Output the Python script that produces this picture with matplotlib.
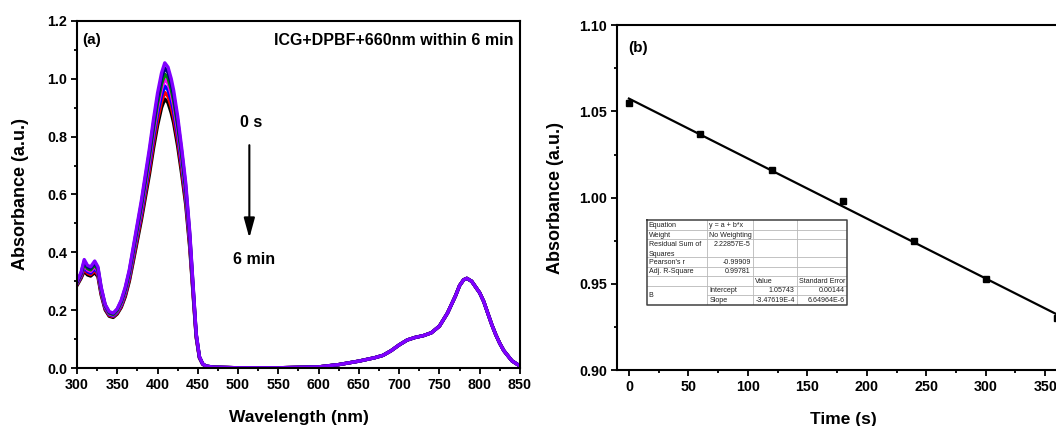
import matplotlib
matplotlib.use("Agg")
import matplotlib.pyplot as plt
from matplotlib.ticker import MultipleLocator

plt.rcParams["font.family"] = ["Liberation Sans", "DejaVu Sans"]
plt.rcParams["font.weight"] = "bold"

# ---- panel (a): UV-vis spectra, 0 s -> 6 min (every 60 s)
wl_short = [300, 305, 309, 313, 317, 322, 326, 330, 335, 340, 345, 350, 355, 360,
            365, 370, 375, 380, 385, 390, 395, 400, 405, 409, 413, 417, 420, 425,
            430, 435, 440, 445, 448, 452, 456, 460]
abs_0s = [0.300, 0.330, 0.375, 0.355, 0.350, 0.370, 0.350, 0.280, 0.220, 0.195, 0.190, 0.205,
          0.235, 0.280, 0.340, 0.420, 0.500, 0.580, 0.670, 0.760, 0.860, 0.950, 1.020, 1.055,
          1.040, 1.000, 0.960, 0.870, 0.760, 0.640, 0.470, 0.250, 0.120, 0.040, 0.015, 0.007]
abs_1min = [0.298, 0.327, 0.369, 0.350, 0.345, 0.364, 0.345, 0.277, 0.218, 0.193, 0.188, 0.203,
            0.232, 0.276, 0.335, 0.413, 0.492, 0.570, 0.659, 0.747, 0.845, 0.934, 1.003, 1.037,
            1.022, 0.983, 0.944, 0.855, 0.747, 0.629, 0.462, 0.246, 0.118, 0.039, 0.015, 0.007]
abs_2min = [0.295, 0.324, 0.362, 0.344, 0.339, 0.357, 0.339, 0.272, 0.215, 0.190, 0.185, 0.199,
            0.227, 0.270, 0.327, 0.404, 0.482, 0.559, 0.645, 0.732, 0.828, 0.915, 0.982, 1.016,
            1.002, 0.963, 0.924, 0.838, 0.732, 0.616, 0.453, 0.241, 0.116, 0.039, 0.015, 0.007]
abs_3min = [0.293, 0.321, 0.356, 0.339, 0.334, 0.351, 0.334, 0.268, 0.212, 0.188, 0.183, 0.196,
            0.223, 0.265, 0.322, 0.397, 0.473, 0.549, 0.634, 0.719, 0.814, 0.899, 0.965, 0.998,
            0.984, 0.946, 0.908, 0.823, 0.719, 0.605, 0.445, 0.237, 0.114, 0.038, 0.014, 0.007]
abs_4min = [0.290, 0.317, 0.349, 0.333, 0.328, 0.344, 0.328, 0.263, 0.208, 0.185, 0.180, 0.193,
            0.218, 0.259, 0.314, 0.388, 0.462, 0.536, 0.619, 0.702, 0.795, 0.878, 0.942, 0.975,
            0.961, 0.924, 0.887, 0.804, 0.702, 0.591, 0.434, 0.231, 0.111, 0.037, 0.014, 0.007]
abs_5min = [0.288, 0.314, 0.342, 0.328, 0.323, 0.337, 0.322, 0.258, 0.205, 0.182, 0.178, 0.190,
            0.214, 0.253, 0.307, 0.379, 0.452, 0.524, 0.605, 0.686, 0.777, 0.858, 0.921, 0.953,
            0.939, 0.903, 0.867, 0.786, 0.686, 0.578, 0.424, 0.226, 0.108, 0.036, 0.014, 0.006]
abs_6min = [0.285, 0.310, 0.335, 0.322, 0.318, 0.330, 0.316, 0.253, 0.201, 0.179, 0.175, 0.187,
            0.210, 0.247, 0.300, 0.370, 0.441, 0.512, 0.591, 0.670, 0.759, 0.838, 0.900, 0.930,
            0.917, 0.882, 0.847, 0.767, 0.670, 0.565, 0.415, 0.221, 0.106, 0.035, 0.013, 0.006]

# long-wavelength part (ICG band) is the same for all curves
wl_long = [470, 500, 550, 600, 625, 650, 670, 680, 690, 700, 710, 720, 730, 740, 750,
           760, 770, 775, 780, 784, 790, 800, 805, 810, 815, 820, 825, 830, 840, 850]
abs_long = [0.003, 0.001, 0.001, 0.004, 0.012, 0.024, 0.036, 0.044, 0.060, 0.080, 0.097,
            0.106, 0.112, 0.122, 0.145, 0.190, 0.250, 0.285, 0.305, 0.310, 0.300, 0.260,
            0.230, 0.190, 0.150, 0.115, 0.085, 0.060, 0.025, 0.007]

spectra = [abs_6min, abs_5min, abs_4min, abs_3min, abs_2min, abs_1min, abs_0s]
colors = ["black", "red", "blue", "magenta", "green", "navy", "#8000ff"]

# ---- panel (b): absorbance at 410 nm vs time
time_s = [0, 60, 120, 180, 240, 300, 360]
abs_410 = [1.055, 1.037, 1.016, 0.998, 0.975, 0.953, 0.930]
intercept = 1.05743
slope = -3.47619e-4

table_rows = [
    ["Equation", "y = a + b*x", "", ""],
    ["Weight", "No Weighting", "", ""],
    ["Residual Sum of\nSquares", "2.22857E-5", "", ""],
    ["Pearson's r", "-0.99909", "", ""],
    ["Adj. R-Square", "0.99781", "", ""],
    ["", "", "Value", "Standard Error"],
    ["", "Intercept", "1.05743", "0.00144"],
    ["", "Slope", "-3.47619E-4", "6.64964E-6"],
]


def style_axes(ax):
    for s in ax.spines.values():
        s.set_linewidth(1.5)
    ax.tick_params(which="both", direction="out", width=1.3, top=False, right=False,
                   labelsize=10.3, pad=3)
    ax.tick_params(which="major", length=4)
    ax.tick_params(which="minor", length=2.5)


fig = plt.figure(figsize=(10.56, 4.26), dpi=100)

# ---------------- (a)
ax1 = fig.add_axes([0.0729, 0.136, 0.4195, 0.815])
for y, c in zip(spectra, colors):
    ax1.plot(wl_short + wl_long, y + abs_long, color=c, lw=2.4, solid_capstyle="round")
ax1.set_xlim(300, 850)
ax1.set_ylim(0, 1.2)
ax1.xaxis.set_major_locator(MultipleLocator(50))
ax1.xaxis.set_minor_locator(MultipleLocator(25))
ax1.yaxis.set_major_locator(MultipleLocator(0.2))
ax1.yaxis.set_minor_locator(MultipleLocator(0.1))
ax1.yaxis.set_major_formatter(plt.FormatStrFormatter("%.1f"))
style_axes(ax1)
ax1.set_xlabel("Wavelength (nm)", fontsize=12.5, fontweight="bold", labelpad=13)
ax1.set_ylabel("Absorbance (a.u.)", fontsize=13, fontweight="bold", labelpad=13)
ax1.text(0.012, 0.965, "(a)", transform=ax1.transAxes, fontsize=11, fontweight="bold",
         va="top", ha="left")
ax1.text(0.985, 0.965, "ICG+DPBF+660nm within 6 min", transform=ax1.transAxes,
         fontsize=11.5, fontweight="bold", va="top", ha="right")
ax1.annotate("", xy=(514, 0.44), xytext=(514, 0.78),
             arrowprops=dict(arrowstyle="-|>,head_length=0.8,head_width=0.22",
                             color="black", lw=1.5, mutation_scale=15))
ax1.text(516, 0.85, "0 s", fontsize=11.5, fontweight="bold", ha="center", va="center")
ax1.text(520, 0.376, "6 min", fontsize=11.5, fontweight="bold", ha="center", va="center")

# ---------------- (b)
ax2 = fig.add_axes([0.5843, 0.131, 0.428, 0.810])
ax2.plot([time_s[0], time_s[-1]],
         [intercept + slope * time_s[0], intercept + slope * time_s[-1]],
         color="black", lw=1.6)
ax2.plot(time_s, abs_410, "s", color="black", ms=5)
ax2.set_xlim(-10, 370)
ax2.set_ylim(0.90, 1.10)
ax2.xaxis.set_major_locator(MultipleLocator(50))
ax2.xaxis.set_minor_locator(MultipleLocator(25))
ax2.yaxis.set_major_locator(MultipleLocator(0.05))
ax2.yaxis.set_minor_locator(MultipleLocator(0.025))
ax2.yaxis.set_major_formatter(plt.FormatStrFormatter("%.2f"))
style_axes(ax2)
ax2.set_xlabel("Time (s)", fontsize=12.5, fontweight="bold", labelpad=13)
ax2.set_ylabel("Absorbance (a.u.)", fontsize=13, fontweight="bold", labelpad=11)
ax2.text(0.025, 0.955, "(b)", transform=ax2.transAxes, fontsize=11, fontweight="bold",
         va="top", ha="left")

# ---------------- fit report table
tab = fig.add_axes([0.6124, 0.284, 0.1894, 0.1995])
tab.set_xlim(0, 600)
tab.set_ylim(255, 0)
tab.axis("off")
row_edges = [0, 30, 58, 112, 140, 168, 197, 225, 255]
col_edges = [0, 182, 318, 450, 600]
tab.fill_between([0, 600], 0, 255, color="white", zorder=0)
grid_kw = dict(color="#b8b8b8", lw=0.6, zorder=1)
for y in row_edges[1:-1]:
    x0 = col_edges[1] if y == 225 else 0
    tab.plot([x0, 600], [y, y], **grid_kw)
for x in col_edges[1:-1]:
    tab.plot([x, x], [0, 255], **grid_kw)
tab.plot([0, 600, 600, 0, 0], [0, 0, 255, 255, 0], color="#404040", lw=1.1, zorder=2,
         clip_on=False)


def is_number(s):
    try:
        float(s)
        return True
    except ValueError:
        return False


fs_tab = 5.1
for i, row in enumerate(table_rows):
    top, bot = row_edges[i], row_edges[i + 1]
    for j, cell in enumerate(row):
        if not cell:
            continue
        yc = top + 15
        if is_number(cell):
            tab.text(col_edges[j + 1] - 6, yc, cell, fontsize=fs_tab, fontweight="normal",
                     ha="right", va="center", color="#202020")
        else:
            tab.text(col_edges[j] + 6, top + 5 if "\n" in cell else yc, cell,
                     fontsize=fs_tab, fontweight="normal", ha="left",
                     va="top" if "\n" in cell else "center", color="#202020",
                     linespacing=1.5)
tab.text(6, (row_edges[6] + row_edges[8]) / 2, "B", fontsize=fs_tab, fontweight="normal",
         ha="left", va="center", color="#202020")

fig.savefig("out.png", dpi=100)
